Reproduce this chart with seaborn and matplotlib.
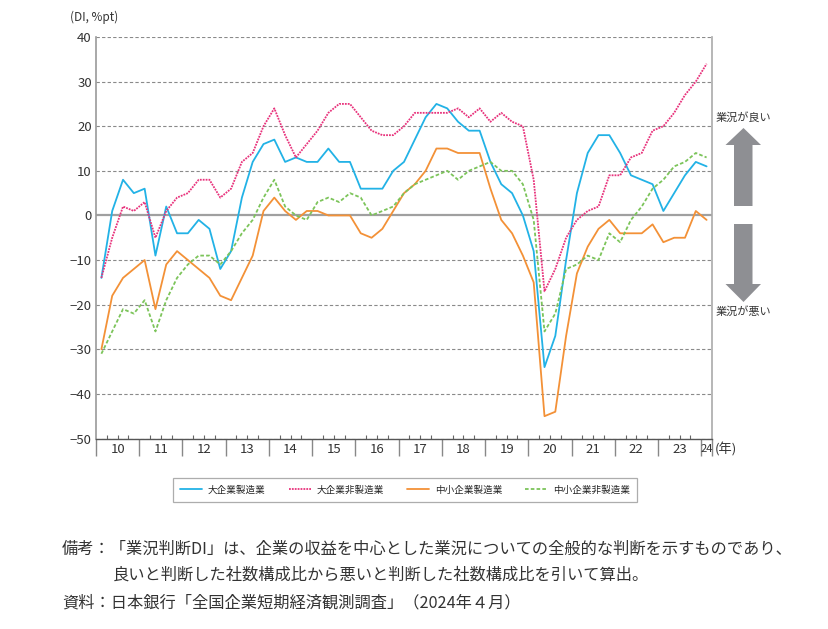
import numpy as np
import pandas as pd
import matplotlib
matplotlib.use('Agg')
import matplotlib.pyplot as plt
from matplotlib.patches import Polygon
from matplotlib.lines import Line2D
import seaborn as sns

sns.set_theme(style='white')
plt.rcParams['font.family'] = ['Noto Sans CJK JP', 'DejaVu Sans']
plt.rcParams['axes.unicode_minus'] = True

# 四半期データ (2010年3月調査 ～ 2024年3月調査)
years = [str(y)[-2:] for y in range(2010, 2025)]
large_mfg = [-14, 1, 8, 5, 6, -9, 2, -4, -4, -1, -3, -12, -8, 4, 12, 16,
             17, 12, 13, 12, 12, 15, 12, 12, 6, 6, 6, 10, 12, 17, 22, 25,
             24, 21, 19, 19, 12, 7, 5, 0, -8, -34, -27, -10, 5, 14, 18, 18,
             14, 9, 8, 7, 1, 5, 9, 12, 11]
large_nonmfg = [-14, -5, 2, 1, 3, -5, 1, 4, 5, 8, 8, 4, 6, 12, 14, 20,
                24, 18, 13, 16, 19, 23, 25, 25, 22, 19, 18, 18, 20, 23, 23, 23,
                23, 24, 22, 24, 21, 23, 21, 20, 8, -17, -12, -5, -1, 1, 2, 9,
                9, 13, 14, 19, 20, 23, 27, 30, 34]
small_mfg = [-30, -18, -14, -12, -10, -21, -11, -8, -10, -12, -14, -18, -19, -14, -9, 1,
             4, 1, -1, 1, 1, 0, 0, 0, -4, -5, -3, 1, 5, 7, 10, 15,
             15, 14, 14, 14, 6, -1, -4, -9, -15, -45, -44, -27, -13, -7, -3, -1,
             -4, -4, -4, -2, -6, -5, -5, 1, -1]
small_nonmfg = [-31, -26, -21, -22, -19, -26, -19, -14, -11, -9, -9, -11, -8, -4, -1, 4,
                8, 2, 0, -1, 3, 4, 3, 5, 4, 0, 1, 2, 5, 7, 8, 9,
                10, 8, 10, 11, 12, 10, 10, 7, -1, -26, -22, -12, -11, -9, -10, -4,
                -6, -1, 2, 6, 8, 11, 12, 14, 13]
series_names = ['大企業製造業', '大企業非製造業', '中小企業製造業', '中小企業非製造業']
colors = ['#22B2E6', '#E8337C', '#F39137', '#7CC45A']
dash_styles = ['', (1, 0.6), '', (2, 1.2)]

n = len(large_mfg)
t = np.arange(n) + 0.5
df = pd.concat([
    pd.DataFrame({'t': t, 'DI': v, '系列': name})
    for name, v in zip(series_names, [large_mfg, large_nonmfg, small_mfg, small_nonmfg])
], ignore_index=True)

fig = plt.figure(figsize=(8.29, 6.29), dpi=100)
ax = fig.add_axes([96 / 829, 1 - 438.5 / 629, 616 / 829, 401.5 / 629])

# グリッド
for yv in range(-50, 41, 10):
    if yv == 0:
        ax.axhline(0, color='#a0a0a0', lw=1.6, zorder=1)
    else:
        ax.axhline(yv, color='#8a8a8a', lw=0.8, ls=(0, (3, 2)), zorder=1)

sns.lineplot(data=df, x='t', y='DI', hue='系列', style='系列',
             palette=dict(zip(series_names, colors)),
             dashes=dict(zip(series_names, dash_styles)),
             lw=1.3, legend=False, ax=ax, zorder=3)

ax.set_xlim(0, n)
ax.set_ylim(-50, 40)
ax.set_xlabel('')
ax.set_ylabel('')
ax.set_yticks(range(-50, 41, 10))
ax.set_yticklabels([f'{v}'.replace('-', '−') for v in range(-50, 41, 10)], fontsize=9.5, color='#333333')

# 年区切り(下向き)と四半期目盛り(上向き)
ax.set_xticks(np.arange(0, n + 1, 4).tolist() + [n])
ax.set_xticklabels([])
ax.set_xticks(np.arange(0, n + 1, 1), minor=True)
ax.tick_params(axis='x', which='major', direction='out', length=12.5, width=1.0, color='#888888', bottom=True)
ax.tick_params(axis='x', which='minor', direction='in', length=3, width=0.8, color='#666666', bottom=True)
ax.tick_params(axis='y', which='major', length=0, pad=3)

ax.spines['top'].set_visible(False)
ax.spines['left'].set_color('#999999')
ax.spines['right'].set_color('#aaaaaa')
ax.spines['left'].set_linewidth(1.2)
ax.spines['right'].set_linewidth(1.2)
ax.spines['bottom'].set_color('#555555')
ax.spines['bottom'].set_linewidth(1.0)

# 年ラベル
for i, yl in enumerate(years):
    xc = 4 * i + 2 if i < len(years) - 1 else n - 0.5
    ax.text(xc, -0.027, yl, transform=ax.get_xaxis_transform(), ha='center', va='center',
            fontsize=9.5 if i < len(years) - 1 else 8, color='#333333')
ax.text(1.004, -0.027, '(年)', transform=ax.transAxes, ha='left', va='center', fontsize=9.5, color='#333333')
fig.text(70 / 829, 1 - 17 / 629, '(DI, %pt)', ha='left', va='center', fontsize=8.5, color='#333333')

# 右側の矢印
def px(x, y):
    return (x / 829, 1 - y / 629)

arrow_col = '#8e8f93'
up = [px(734, 206), px(734, 145), px(725.5, 145), px(743.5, 128), px(761, 145), px(752.5, 145), px(752.5, 206)]
down = [px(734, 224), px(734, 284), px(725.5, 284), px(743.5, 302), px(761, 284), px(752.5, 284), px(752.5, 224)]
for pts in (up, down):
    fig.patches.append(Polygon(pts, closed=True, transform=fig.transFigure, facecolor=arrow_col, edgecolor='none'))
fig.text(716 / 829, 1 - 117 / 629, '業況が良い', ha='left', va='center', fontsize=8, color='#333333')
fig.text(716 / 829, 1 - 311 / 629, '業況が悪い', ha='left', va='center', fontsize=8, color='#333333')

# 凡例
handles = [Line2D([0], [0], color=c, lw=1.3, ls='-' if d == '' else (0, d)) for c, d in zip(colors, dash_styles)]
leg = fig.legend(handles, series_names, loc='center', bbox_to_anchor=(405 / 829, 1 - 490 / 629), ncol=4,
                 fontsize=6.9, frameon=True, fancybox=False, edgecolor='#999999', handlelength=2.3,
                 columnspacing=2.4, handletextpad=0.6, borderpad=0.75, borderaxespad=0)
leg.get_frame().set_linewidth(0.9)

# 注記
note_kw = dict(ha='left', va='center', fontsize=11.7, color='#333333')
fig.text(62 / 829, 1 - 549 / 629, '備考：「業況判断DI」は、企業の収益を中心とした業況についての全般的な判断を示すものであり、', **note_kw)
fig.text(113 / 829, 1 - 575 / 629, '良いと判断した社数構成比から悪いと判断した社数構成比を引いて算出。', **note_kw)
fig.text(62 / 829, 1 - 603 / 629, '資料：日本銀行「全国企業短期経済観測調査」（2024年４月）', **note_kw)

fig.savefig('out.png', dpi=100)
